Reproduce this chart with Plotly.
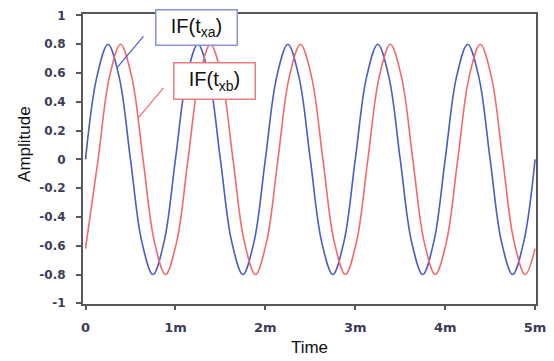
import plotly.graph_objects as go

# Time in milliseconds (axis labelled 0, 1m, ... 5m)
time_a = [0, 0.125, 0.25, 0.375, 0.5, 0.625, 0.75, 0.875, 1.0, 1.125, 1.25, 1.375, 1.5, 1.625,
          1.75, 1.875, 2.0, 2.125, 2.25, 2.375, 2.5, 2.625, 2.75, 2.875, 3.0, 3.125, 3.25, 3.375,
          3.5, 3.625, 3.75, 3.875, 4.0, 4.125, 4.25, 4.375, 4.5, 4.625, 4.75, 4.875, 5.0]
amp_a = [0, 0.57, 0.8, 0.57, 0, -0.57, -0.8, -0.57,
         0, 0.57, 0.8, 0.57, 0, -0.57, -0.8, -0.57,
         0, 0.57, 0.8, 0.57, 0, -0.57, -0.8, -0.57,
         0, 0.57, 0.8, 0.57, 0, -0.57, -0.8, -0.57,
         0, 0.57, 0.8, 0.57, 0, -0.57, -0.8, -0.57,
         0]

time_b = [0, 0.14, 0.265, 0.39, 0.515, 0.64, 0.765, 0.89, 1.015, 1.14, 1.265, 1.39, 1.515, 1.64,
          1.765, 1.89, 2.015, 2.14, 2.265, 2.39, 2.515, 2.64, 2.765, 2.89, 3.015, 3.14, 3.265,
          3.39, 3.515, 3.64, 3.765, 3.89, 4.015, 4.14, 4.265, 4.39, 4.515, 4.64, 4.765, 4.89, 5.0]
amp_b = [-0.62,
         0, 0.57, 0.8, 0.57, 0, -0.57, -0.8, -0.57,
         0, 0.57, 0.8, 0.57, 0, -0.57, -0.8, -0.57,
         0, 0.57, 0.8, 0.57, 0, -0.57, -0.8, -0.57,
         0, 0.57, 0.8, 0.57, 0, -0.57, -0.8, -0.57,
         0, 0.57, 0.8, 0.57, 0, -0.57, -0.8,
         -0.62]

x_tick_vals = [0, 1, 2, 3, 4, 5]
x_tick_text = ["0", "1m", "2m", "3m", "4m", "5m"]
y_tick_vals = [-1, -0.8, -0.6, -0.4, -0.2, 0, 0.2, 0.4, 0.6, 0.8, 1]
y_tick_text = ["-1", "-0.8", "-0.6", "-0.4", "-0.2", "0", "0.2", "0.4", "0.6", "0.8", "1"]

x_title = "Time"
y_title = "Amplitude"
label_a = "IF(t<sub>xa</sub>)"
label_b = "IF(t<sub>xb</sub>)"

BLUE = "#4a5cc6"
RED = "#f26b6b"

fig = go.Figure()
fig.add_trace(go.Scatter(x=time_a, y=amp_a, mode="lines",
                         line=dict(color=BLUE, width=1.6, shape="spline", smoothing=1.0),
                         name=label_a))
fig.add_trace(go.Scatter(x=time_b, y=amp_b, mode="lines",
                         line=dict(color=RED, width=1.6, shape="spline", smoothing=1.0),
                         name=label_b))

fig.update_xaxes(range=[-0.028, 5.01], tickvals=x_tick_vals, ticktext=x_tick_text,
                 showgrid=False, zeroline=False, showline=True, linecolor="#585858",
                 linewidth=2, mirror=True, ticks="outside", ticklen=4, tickwidth=1.5,
                 tickcolor="#585858",
                 tickfont=dict(family="DejaVu Sans", size=13, color="#3e3b58", weight="bold"),
                 ticklabelstandoff=6, automargin=False,
                 title=dict(text=x_title, font=dict(family="Liberation Sans", size=17, color="#111"),
                            standoff=8))
fig.update_yaxes(range=[-1.005, 1.01], tickvals=y_tick_vals, ticktext=y_tick_text,
                 showgrid=False, zeroline=False, showline=True, linecolor="#585858",
                 linewidth=2, mirror=True, ticks="outside", ticklen=5, tickwidth=1.5,
                 tickcolor="#585858",
                 tickfont=dict(family="DejaVu Sans", size=12, color="#3e3b58", weight="bold"),
                 ticklabelstandoff=8, automargin=False)

fig.add_annotation(x=-0.128, y=0.552, xref="paper", yref="paper", text=y_title, showarrow=False,
                   textangle=-90, xanchor="center", yanchor="middle",
                   font=dict(family="Liberation Sans", size=17, color="#111"))

fig.add_annotation(x=1.237, y=0.914, xref="x", yref="y", text=label_a, showarrow=False,
                   font=dict(family="Liberation Sans", size=20, color="#111"),
                   bgcolor="white", bordercolor="#8790d8", borderwidth=1.5,
                   width=78, height=32, align="center", valign="middle")
fig.add_annotation(x=1.439, y=0.545, xref="x", yref="y", text=label_b, showarrow=False,
                   font=dict(family="Liberation Sans", size=20, color="#111"),
                   bgcolor="white", bordercolor="#ef7f7f", borderwidth=1.5,
                   width=78, height=33, align="center", valign="middle")

fig.add_shape(type="line", xref="x", yref="y", x0=0.644, y0=0.855, x1=0.356, y1=0.641,
              line=dict(color=BLUE, width=1.2))
fig.add_shape(type="line", xref="x", yref="y", x0=0.867, y0=0.497, x1=0.589, y1=0.290,
              line=dict(color=RED, width=1.2))

# the page body adds an 8px offset, so the figure is sized/margined to compensate
fig.update_layout(width=546, height=353, showlegend=False,
                  margin=dict(l=75, r=18, t=6, b=57),
                  paper_bgcolor="white", plot_bgcolor="white")

fig.write_html("out.html")
